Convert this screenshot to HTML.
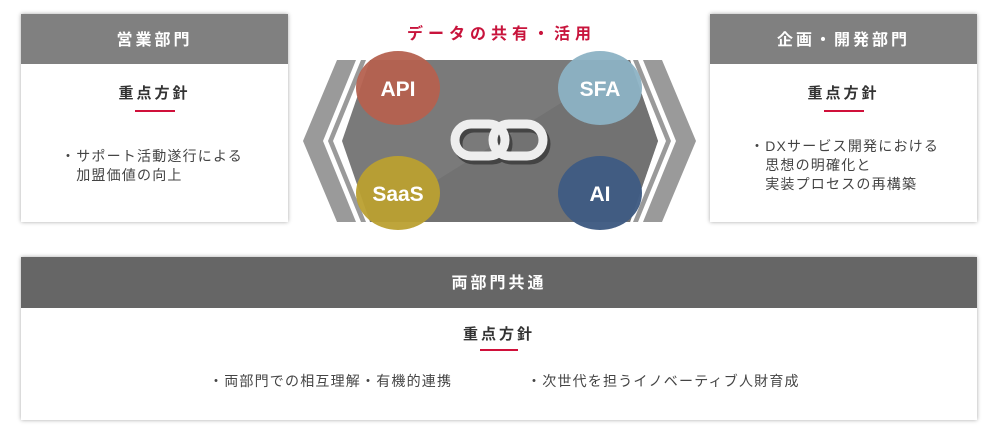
<!DOCTYPE html>
<html><head><meta charset="utf-8"><style>
body{margin:0;width:999px;height:437px;background:#fff;position:relative;overflow:hidden;font-family:"Liberation Sans","Noto Sans CJK JP",sans-serif;}
.box{position:absolute;background:#fff;box-shadow:0 0 4px rgba(0,0,0,.35);}
.hd{height:50px;background:#808080;color:#fff;font-weight:bold;font-size:16px;letter-spacing:3px;text-align:center;line-height:54px;}
.t{position:absolute;left:0;right:0;text-align:center;font-size:15px;font-weight:bold;color:#333;letter-spacing:3px;}
.u{position:absolute;height:2px;background:#d0103a;}
.b{position:absolute;font-size:14px;color:#444;line-height:19px;letter-spacing:1.2px;white-space:nowrap;}
</style></head><body>
<div class="box" style="left:21px;top:14px;width:267px;height:208px;">
 <div class="hd">営業部門</div>
 <div class="t" style="top:68px;">重点方針</div>
 <div class="u" style="left:114px;top:96px;width:40px;"></div>
 <div class="b" style="left:40px;top:133px;">・サポート活動遂行による<br>　加盟価値の向上</div>
</div>
<div class="box" style="left:710px;top:14px;width:267px;height:208px;">
 <div class="hd">企画・開発部門</div>
 <div class="t" style="top:68px;">重点方針</div>
 <div class="u" style="left:114px;top:96px;width:40px;"></div>
 <div class="b" style="left:40px;top:123px;">・DXサービス開発における<br>　思想の明確化と<br>　実装プロセスの再構築</div>
</div>
<div class="box" style="left:21px;top:257px;width:956px;height:163px;">
 <div class="hd" style="height:51px;line-height:54px;background:#666;">両部門共通</div>
 <div class="t" style="top:66px;">重点方針</div>
 <div class="u" style="left:459px;top:92px;width:38px;"></div>
 <div class="b" style="left:188px;top:115px;">・両部門での相互理解・有機的連携</div>
 <div class="b" style="left:506px;top:115px;">・次世代を担うイノベーティブ人財育成</div>
</div>
<div style="position:absolute;left:4px;right:0;top:20px;text-align:center;color:#c8143c;font-weight:bold;font-size:16px;letter-spacing:5px;">データの共有・活用</div>
<svg width="999" height="437" style="position:absolute;left:0;top:0">
 <polygon points="303,141 337,60 356,60 323,141 356,222 337,222" fill="#9a9a9a"/>
 <polygon points="328,141 361,60 366,60 333,141 366,222 361,222" fill="#9a9a9a"/>
 <polygon points="696,141 662,60 643,60 676,141 643,222 662,222" fill="#9a9a9a"/>
 <polygon points="671,141 638,60 633,60 666,141 633,222 638,222" fill="#9a9a9a"/>
 <polygon points="342,141 370,60 630,60 658,141 630,222 370,222" fill="#7a7a7a"/>
 <polygon points="370,222 630,60 658,141 630,222" fill="#727272"/>
 <ellipse cx="398" cy="88" rx="42" ry="37" fill="#b5614f" opacity=".95"/>
 <ellipse cx="600" cy="88" rx="42" ry="37" fill="#8cb2c4" opacity=".95"/>
 <ellipse cx="398" cy="193" rx="42" ry="37" fill="#baa030" opacity=".95"/>
 <ellipse cx="600" cy="193" rx="42" ry="37" fill="#3f5b82" opacity=".97"/>
 <g font-family="Liberation Sans,sans-serif" font-weight="bold" font-size="21" fill="#fff" text-anchor="middle">
  <text x="398" y="96">API</text><text x="600" y="96">SFA</text>
  <text x="398" y="201">SaaS</text><text x="600" y="201">AI</text>
 </g>
 <g fill="none" stroke-linecap="round">
  <rect x="455" y="124" width="50" height="32" rx="16" stroke="#444" stroke-width="9" transform="translate(3,4)"/>
  <rect x="493" y="124" width="50" height="32" rx="16" stroke="#444" stroke-width="9" transform="translate(3,4)"/>
  <rect x="455" y="124" width="50" height="32" rx="16" stroke="#eee" stroke-width="9"/>
  <rect x="493" y="124" width="50" height="32" rx="16" stroke="#eee" stroke-width="9"/>
 </g>
</svg>
</body></html>
